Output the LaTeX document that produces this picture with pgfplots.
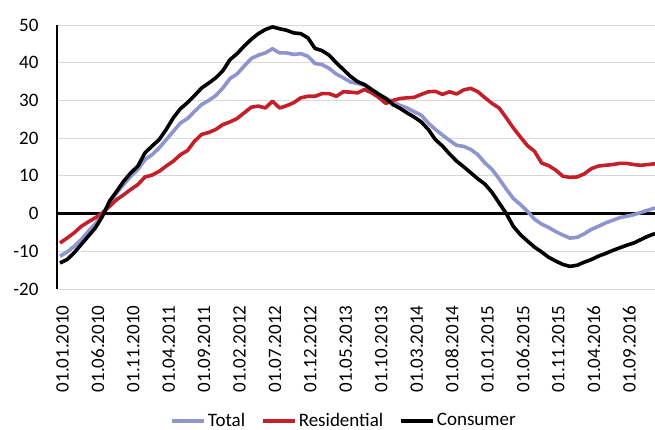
\documentclass[border=0pt]{standalone}
\usepackage{fontspec}
\setmainfont{Carlito}
\usepackage{pgfplots}
\usepackage{pgfplotstable}
\pgfplotsset{compat=1.18}
\definecolor{totalblue}{RGB}{142,148,204}
\definecolor{resred}{RGB}{196,32,44}
\definecolor{gridgray}{RGB}{217,217,217}

% m = months since 01.01.2010
\pgfplotstableread{
m total resid cons
0 -11.3 -7.8 -13.1
1 -10.2 -6.5 -12.2
2 -8.7 -5.1 -10.4
3 -6.9 -3.4 -8.2
4 -4.7 -2.2 -6.0
5 -2.7 -1.1 -3.8
6 -0.3 0.2 -0.7
7 2.8 1.9 3.3
8 5.5 3.7 5.9
9 7.7 5.0 8.6
10 9.9 6.4 10.8
11 11.7 7.7 12.6
12 14.3 9.7 16.1
13 15.6 10.2 17.9
14 17.4 11.2 19.6
15 19.6 12.6 22.3
16 21.8 13.9 25.4
17 24.0 15.6 27.8
18 25.2 16.7 29.4
19 27.1 19.2 31.3
20 28.9 21.0 33.3
21 30.0 21.5 34.6
22 31.3 22.3 36.0
23 33.3 23.6 37.9
24 35.8 24.3 40.8
25 37.0 25.2 42.4
26 39.1 26.7 44.4
27 41.1 28.2 46.2
28 42.0 28.5 47.7
29 42.6 28.0 48.8
30 43.7 29.8 49.5
31 42.6 28.0 49.0
32 42.6 28.6 48.6
33 42.2 29.4 47.9
34 42.4 30.7 47.7
35 41.7 31.1 46.6
36 39.8 31.1 43.8
37 39.5 31.8 43.2
38 38.5 31.8 42.0
39 37.0 31.1 40.0
40 36.0 32.3 38.2
41 34.9 32.2 36.4
42 34.5 32.0 35.0
43 34.0 32.9 34.2
44 32.9 32.0 32.9
45 31.7 30.8 31.6
46 30.6 29.2 30.5
47 29.6 30.0 28.9
48 28.7 30.5 27.9
49 28.0 30.7 26.7
50 27.0 30.8 25.6
51 26.1 31.6 24.3
52 24.0 32.3 22.3
53 22.3 32.4 19.6
54 20.8 31.6 17.9
55 19.4 32.3 15.8
56 18.1 31.7 13.9
57 17.8 32.8 12.4
58 17.0 33.2 10.8
59 15.6 32.3 9.2
60 13.4 30.7 7.8
61 11.7 29.2 5.6
62 9.2 28.0 2.8
63 6.5 25.4 0.0
64 4.0 22.7 -3.4
65 2.4 20.3 -5.6
66 0.6 18.0 -7.3
67 -1.5 16.5 -8.9
68 -2.8 13.4 -10.2
69 -3.7 12.7 -11.6
70 -4.8 11.5 -12.6
71 -5.7 9.9 -13.5
72 -6.5 9.6 -14.0
73 -6.3 9.7 -13.7
74 -5.4 10.5 -12.9
75 -4.2 11.9 -12.2
76 -3.4 12.6 -11.3
77 -2.5 12.8 -10.6
78 -1.8 13.0 -9.8
79 -1.1 13.3 -9.1
80 -0.7 13.3 -8.4
81 -0.3 13.0 -7.8
82 0.3 12.8 -6.9
83 0.9 13.0 -6.0
84 1.5 13.2 -5.3
}\growth

\begin{document}
\fontsize{19}{22}\selectfont
\begin{tikzpicture}
\begin{axis}[
  scale only axis, width=598pt, height=264pt,
  xmin=-0.42, xmax=84, ymin=-20, ymax=50,
  axis lines*=left, axis line style={-},
  x axis line style={draw=none},
  y axis line style={black, line width=1.5pt},
  ytick={-20,-10,10,20,30,40,50},
  extra y ticks={0}, extra y tick style={grid=none},
  xtick={0,5,...,80},
  xticklabels={01.01.2010,01.06.2010,01.11.2010,01.04.2011,01.09.2011,01.02.2012,01.07.2012,01.12.2012,01.05.2013,01.10.2013,01.03.2014,01.08.2014,01.01.2015,01.06.2015,01.11.2015,01.04.2016,01.09.2016},
  tick style={draw=none},
  x tick label style={xshift=2.5pt, yshift=-10pt, rotate=90, anchor=east},
  y tick label style={xshift=-12pt},
  /pgf/number format/assume math mode=true,
  ymajorgrids, major grid style={gridgray, line width=0.9pt},
  legend style={at={(0.48,-0.5)}, anchor=center, draw=none, legend columns=3,
    /tikz/every even column/.append style={column sep=14pt},
    nodes={inner sep=2pt}},
  legend image code/.code={\draw[#1] (0pt,0pt) -- (32pt,0pt);},
  every axis plot/.append style={line width=3.6pt, line join=round},
]
% horizontal category axis crossing at zero
\draw[black, line width=2.4pt] (axis cs:-0.42,0) -- (axis cs:84,0);
\addplot[totalblue] table[x=m, y=total] {\growth};
\addlegendentry{Total}
\addplot[resred] table[x=m, y=resid] {\growth};
\addlegendentry{Residential}
\addplot[black] table[x=m, y=cons] {\growth};
\addlegendentry{Consumer}
\coordinate (bl) at (rel axis cs:0,0);
\coordinate (tr) at (rel axis cs:1,1);
\end{axis}
\pgfresetboundingbox
\path ([shift={(-57pt,-141pt)}]bl) rectangle ([shift={(0pt,25pt)}]tr);
\end{tikzpicture}
\end{document}
